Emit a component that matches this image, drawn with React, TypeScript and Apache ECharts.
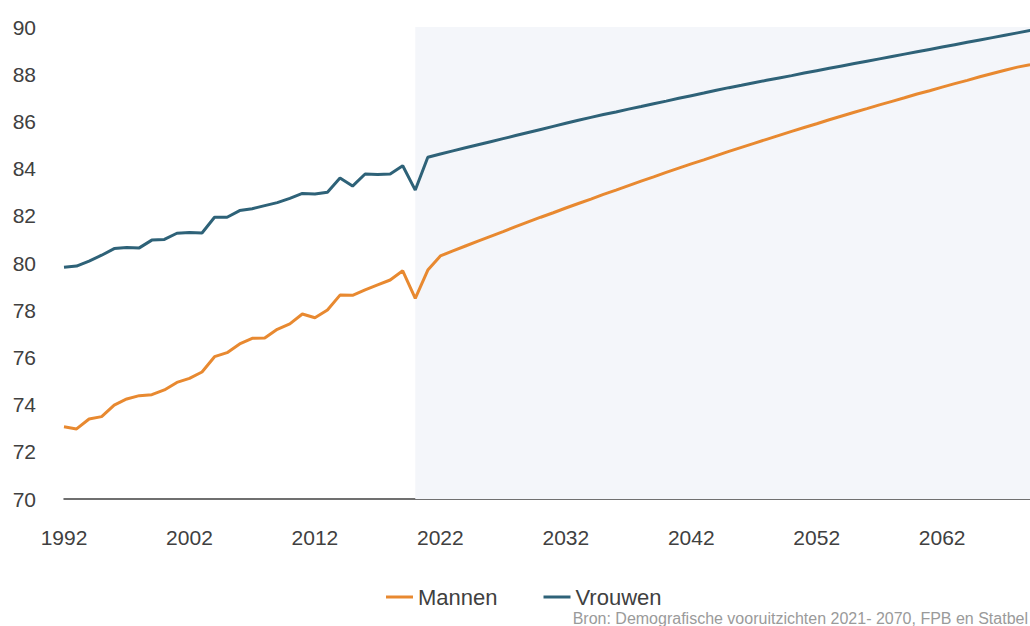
import React, { useEffect, useRef } from "react";
import * as echarts from "echarts";

const years: string[] = [];
for (let y = 1992; y <= 2070; y++) years.push(String(y));

const mannen = [
  73.06, 72.97, 73.39, 73.49, 73.98, 74.24, 74.38, 74.42, 74.62, 74.94,
  75.11, 75.38, 76.03, 76.2, 76.57, 76.81, 76.82, 77.19, 77.42, 77.84,
  77.68, 78.01, 78.64, 78.63, 78.86, 79.07, 79.28, 79.67, 78.5, 79.7,
  80.3, 80.51, 80.72, 80.93, 81.13, 81.33, 81.54, 81.74, 81.94, 82.13,
  82.33, 82.52, 82.71, 82.91, 83.09, 83.28, 83.47, 83.65, 83.84, 84.02,
  84.2, 84.37, 84.55, 84.73, 84.9, 85.07, 85.24, 85.41, 85.58, 85.74,
  85.9, 86.07, 86.23, 86.39, 86.54, 86.7, 86.85, 87.0, 87.16, 87.3,
  87.45, 87.6, 87.74, 87.89, 88.03, 88.17, 88.3, 88.4, 88.52,
];

const vrouwen = [
  79.82, 79.87, 80.08, 80.33, 80.61, 80.66, 80.64, 80.97, 81.0, 81.26,
  81.29, 81.27, 81.94, 81.94, 82.22, 82.3, 82.43, 82.56, 82.74, 82.95,
  82.92, 83.0, 83.6, 83.26, 83.77, 83.75, 83.77, 84.12, 83.09, 84.48,
  84.62, 84.75, 84.88, 85.01, 85.14, 85.27, 85.4, 85.53, 85.66, 85.79,
  85.92, 86.05, 86.17, 86.29, 86.4, 86.52, 86.63, 86.75, 86.86, 86.98,
  87.09, 87.2, 87.32, 87.43, 87.53, 87.64, 87.74, 87.84, 87.94, 88.05,
  88.15, 88.25, 88.35, 88.45, 88.55, 88.65, 88.75, 88.85, 88.95, 89.05,
  89.15, 89.25, 89.35, 89.45, 89.55, 89.65, 89.75, 89.85, 89.95,
];

const projectionStart = "2020";
const visibleEnd = "2069";
const seriesNames = ["Mannen", "Vrouwen"];
const sourceText = "Bron: Demografische vooruitzichten 2021- 2070, FPB en Statbel";

const FONT = "'Liberation Sans', Arial, sans-serif";

export default function App() {
  const ref = useRef<HTMLDivElement>(null);
  useEffect(() => {
    if (!ref.current) return;
    const chart = echarts.init(ref.current, null, { renderer: "svg" });
    chart.setOption({
      animation: false,
      backgroundColor: "#ffffff",
      textStyle: { fontFamily: FONT },
      grid: { left: 64, right: 0, top: 27, bottom: 127, containLabel: false },
      legend: {
        data: seriesNames,
        left: 386,
        top: 586,
        padding: 0,
        icon: "rect",
        itemWidth: 27,
        itemHeight: 3,
        itemGap: 46,
        textStyle: { fontSize: 22, color: "#404040", fontFamily: FONT },
      },
      xAxis: {
        type: "category",
        data: years,
        max: visibleEnd,
        boundaryGap: false,
        axisLine: { lineStyle: { color: "#404040", width: 1.5 } },
        axisTick: { show: false },
        axisLabel: {
          interval: 9,
          margin: 28,
          fontSize: 21,
          color: "#404040",
          fontFamily: FONT,
        },
        splitLine: { show: false },
      },
      yAxis: {
        type: "value",
        min: 70,
        max: 90,
        interval: 2,
        axisLine: { show: false },
        axisTick: { show: false },
        splitLine: { show: false },
        axisLabel: { fontSize: 21, color: "#404040", margin: 28, fontFamily: FONT },
      },
      series: [
        {
          name: seriesNames[0],
          type: "line",
          data: mannen,
          showSymbol: false,
          clip: true,
          color: "#E88930",
          lineStyle: { width: 3, color: "#E88930" },
          z: 3,
          markArea: {
            silent: true,
            itemStyle: { color: "#F4F6FA" },
            data: [[{ xAxis: projectionStart }, { xAxis: visibleEnd }]],
          },
        },
        {
          name: seriesNames[1],
          type: "line",
          data: vrouwen,
          showSymbol: false,
          clip: true,
          color: "#2E6278",
          lineStyle: { width: 3, color: "#2E6278" },
          z: 3,
        },
      ],
      graphic: [
        {
          type: "text",
          right: 2,
          top: 610,
          style: {
            text: sourceText,
            fontSize: 16,
            fill: "#9a9a9a",
            fontFamily: FONT,
          },
        },
      ],
    });
    return () => chart.dispose();
  }, []);
  return (
    <div
      ref={ref}
      style={{ position: "fixed", left: 0, top: 0, width: 1030, height: 626 }}
    />
  );
}
